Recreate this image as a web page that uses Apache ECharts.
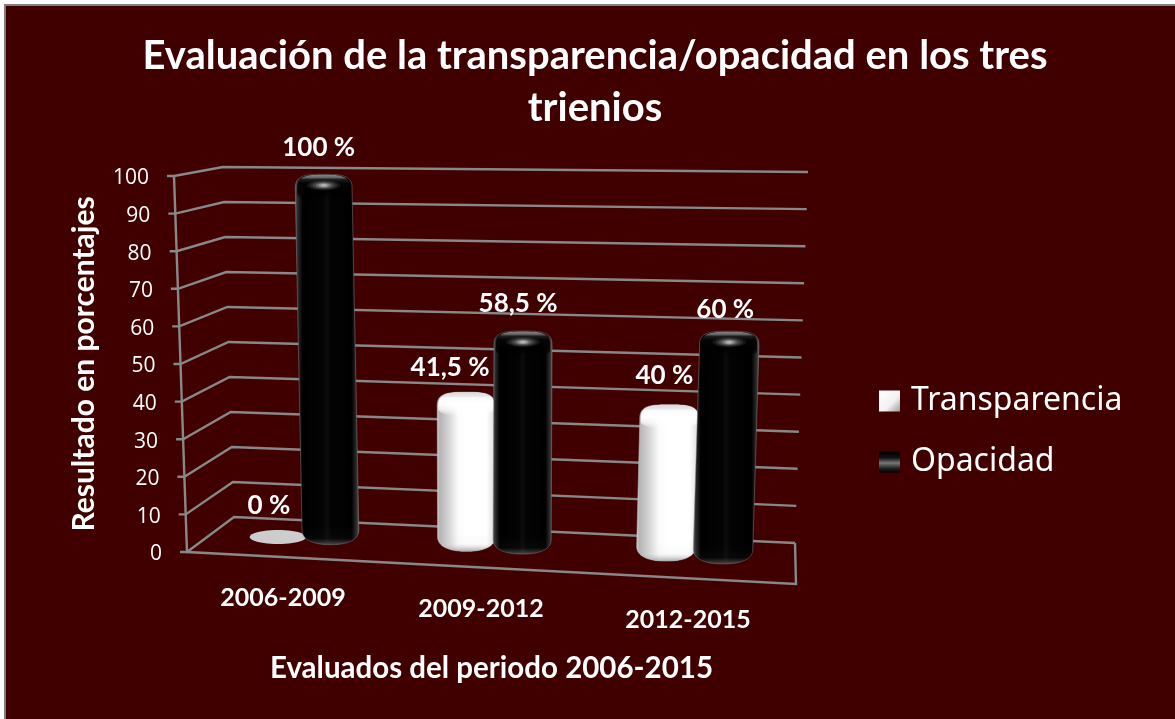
<!DOCTYPE html>
<html>
<head>
<meta charset="utf-8">
<style>html,body{margin:0;padding:0;background:#fff;overflow:hidden}#chart{width:1175px;height:719px}</style>
<script src="https://cdn.jsdelivr.net/npm/echarts@6/dist/echarts.min.js"></script>
</head>
<body>
<div id="chart"></div>
<script>
// ---- data ----
const categories = ['2006-2009', '2009-2012', '2012-2015'];
const transparencia = [0, 41.5, 40];
const opacidad = [100, 58.5, 60];
const yTicks = [0, 10, 20, 30, 40, 50, 60, 70, 80, 90, 100];

// ---- 3D view of the plot box (perspective of the drawing, not data) ----
const FL0 = [187, 552], FL100 = [174, 176], FR0 = [796, 584], FR100 = [810, 190];
const BL0 = [234, 517], BL100 = [223, 167], BR0 = [795, 543], BR100 = [808, 172];
const BAR_DEPTH = 0.6, TOP_SHIFT = 2;
const BAND_SHIFT = [-0.015, -0.019, -0.007];
const LABEL_NUDGE = [[[-7, -21], [-16, -25], [-5, -29]], [[-5, -27], [-5, -27], [-4, -22]]];
const CATEGORY_NUDGE = [-5.5, -10.5, -6.5];
const GRID = '#888888';
const FONT = 'Lato';

const mix = (a, b, t) => [a[0] + (b[0] - a[0]) * t, a[1] + (b[1] - a[1]) * t];
function project(u, v, d) {
  const front = mix(mix(FL0, FR0, u), mix(FL100, FR100, u), v);
  const back = mix(mix(BL0, BR0, u), mix(BL100, BR100, u), v);
  return mix(front, back, d);
}
function norm(params, api, cat, val) {
  const r = params.coordSys;
  const c = api.coord([cat, val]);
  return [(c[0] - r.x) / r.width, (r.y + r.height - c[1]) / r.height];
}
function ellipsePts(cx, cy, rx, ry) {
  const p = [];
  for (let i = 0; i < 48; i++) {
    const t = i / 48 * Math.PI * 2;
    p.push([cx + rx * Math.cos(t), cy + ry * Math.sin(t)]);
  }
  return p;
}
function barOutline(T, B, w, capH, botH) {
  const pts = [], e = 0.6, eb = 0.85;
  for (let i = 0; i <= 48; i++) {
    const t = Math.PI - i / 48 * Math.PI;
    const c = Math.cos(t), s = Math.sin(t);
    pts.push([T[0] + w * Math.sign(c) * Math.pow(Math.abs(c), e), T[1] + capH - capH * Math.pow(Math.abs(s), e)]);
  }
  for (let i = 0; i <= 48; i++) {
    const t = i / 48 * Math.PI;
    const c = Math.cos(t), s = Math.sin(t);
    pts.push([B[0] + w * Math.sign(c) * Math.pow(Math.abs(c), eb), B[1] - botH + botH * Math.pow(Math.abs(s), eb)]);
  }
  return pts;
}
const hGrad = (stops) => ({ type: 'linear', x: 0, y: 0, x2: 1, y2: 0, colorStops: stops.map(s => ({ offset: s[0], color: s[1] })) });
const vGrad = (stops) => ({ type: 'linear', x: 0, y: 0, x2: 0, y2: 1, colorStops: stops.map(s => ({ offset: s[0], color: s[1] })) });

const FILL = {
  0: hGrad([[0, '#d0d0d0'], [0.05, '#b4b4b4'], [0.18, '#cfcfcf'], [0.36, '#fbfbfb'], [0.5, '#ffffff'], [0.84, '#ffffff'], [0.95, '#e4e4e4'], [1, '#cccccc']]),
  1: hGrad([[0, '#6a6a6a'], [0.04, '#303030'], [0.12, '#000000'], [0.44, '#030303'], [0.5, '#0c0c0c'], [0.56, '#030303'], [0.88, '#000000'], [0.96, '#303030'], [1, '#6a6a6a']])
};
const RIM = { 0: 'rgba(190,190,190,0.5)', 1: 'rgba(125,125,125,0.5)' };
const BASE_SHADE = {
  0: vGrad([[0, 'rgba(190,190,190,0)'], [0.6, 'rgba(200,200,200,0.1)'], [1, 'rgba(165,165,165,0.9)']]),
  1: vGrad([[0, 'rgba(90,90,90,0)'], [0.65, 'rgba(70,70,70,0.08)'], [1, 'rgba(105,105,105,0.7)']])
};

function barSeries(name, values, side) {
  return {
    name, type: 'custom', coordinateSystem: 'cartesian2d', z: 5 + side,
    data: values.map((v, i) => [i, v]),
    renderItem(params, api) {
      const cat = api.value(0), val = api.value(1);
      const n = norm(params, api, cat, val);
      const off = 0.0465 + 0.003 * n[0];
      const u = n[0] + BAND_SHIFT[cat] + (side ? off : -off);
      const T = project(u, n[1], BAR_DEPTH), B = project(u, 0, BAR_DEPTH);
      const nudge = LABEL_NUDGE[side][cat];
      const text = String(val).replace('.', ',') + ' %';
      const w = 28 + 2 * u;
      const font = 'bold 26px ' + FONT;
      const children = [];
      if (val === 0) {
        children.push({ type: 'polygon', shape: { points: ellipsePts(B[0] + 2, B[1] + 3, w, 7) }, style: { fill: '#cdcdcd' } });
        children.push({ type: 'text', style: { x: B[0] + nudge[0], y: B[1] - 7 + nudge[1], text, fill: '#fff', font, textAlign: 'center', textVerticalAlign: 'middle' } });
        return { type: 'group', children };
      }
      const capH = 16;
      const top = T[1] + TOP_SHIFT;
      const bottom = B[1] + 8;
      children.push({ type: 'polygon', shape: { points: barOutline([T[0], top], [B[0], bottom], w, capH, 15) }, style: { fill: FILL[side], stroke: RIM[side], lineWidth: 1 } });
      children.push({ type: 'polygon', shape: { points: barOutline([B[0], bottom - 18], [B[0], bottom], w - 0.5, 1, 15) }, style: { fill: BASE_SHADE[side] } });
      if (side === 0) {
        children.push({ type: 'polygon', shape: { points: barOutline([T[0], top], [T[0], top + capH + 8], w - 1, capH, 8) },
          style: { fill: vGrad([[0, '#dadada'], [0.16, '#e6e6e6'], [0.24, '#fafafa'], [0.5, '#ffffff'], [0.75, 'rgba(255,255,255,0.7)'], [1, 'rgba(255,255,255,0)']]) } });
      } else {
        children.push({ type: 'polygon', shape: { points: barOutline([T[0], top + 0.5], [T[0], top + 26], w - 2, capH - 1, 6) },
          style: { fill: vGrad([[0, '#858585'], [0.1, '#6a6a6a'], [0.18, '#1e1e1e'], [0.32, '#050505'], [0.7, 'rgba(0,0,0,0.8)'], [1, 'rgba(0,0,0,0)']]) } });
        [[17, 5, 0.07], [14, 4.2, 0.1], [11, 3.4, 0.14], [8, 2.7, 0.2], [5.5, 2, 0.3], [3, 1.3, 0.4]].forEach(h => {
          children.push({ type: 'polygon', shape: { points: ellipsePts(T[0], top + 11, h[0], h[1]) }, style: { fill: 'rgba(235,235,235,' + h[2] + ')' } });
        });
      }
      children.push({ type: 'text', style: { x: T[0] + nudge[0], y: top + nudge[1], text, fill: '#fff', font, textAlign: 'center', textVerticalAlign: 'middle' } });
      return { type: 'group', children };
    }
  };
}

const option = {
  backgroundColor: '#ffffff',
  animation: false,
  graphic: [
    { type: 'rect', left: 4, top: 4, shape: { width: 1171, height: 715 }, style: { fill: '#808080' }, z: 0 },
    { type: 'rect', left: 6, top: 6, shape: { width: 1169, height: 713 }, style: { fill: '#400000' }, z: 0 }
  ],
  title: {
    text: 'Evaluación de la transparencia/opacidad en los tres\ntrienios',
    left: 590, top: 25, textAlign: 'center',
    textStyle: { color: '#fff', fontFamily: FONT, fontWeight: 'bold', fontSize: 40, lineHeight: 52 }
  },
  legend: {
    orient: 'vertical', left: 874, top: 380, itemWidth: 21, itemHeight: 21, itemGap: 29,
    selectedMode: false,
    textStyle: { color: '#fff', fontFamily: 'Noto Sans', fontSize: 32, padding: [0, 0, 0, 6] },
    data: [
      { name: 'Transparencia', icon: 'rect', itemStyle: { color: { type: 'linear', x: 0, y: 0, x2: 1, y2: 1, colorStops: [{ offset: 0, color: '#ffffff' }, { offset: 0.6, color: '#f2f2f2' }, { offset: 1, color: '#9a9a9a' }] } } },
      { name: 'Opacidad', icon: 'rect', itemStyle: { color: vGrad([[0, '#000'], [0.3, '#111'], [0.55, '#777'], [0.8, '#222'], [1, '#000']]) } }
    ]
  },
  grid: { left: FL0[0], top: FL100[1], width: FR0[0] - FL0[0], height: FL0[1] - FL100[1] },
  xAxis: {
    type: 'category', data: categories,
    name: 'Evaluados del periodo 2006-2015', nameLocation: 'middle', nameGap: 101,
    nameTextStyle: { color: '#fff', fontFamily: FONT, fontWeight: 'bold', fontSize: 29.5 },
    axisLine: { show: false }, axisTick: { show: false }, axisLabel: { show: false }, splitLine: { show: false }
  },
  yAxis: {
    type: 'value', min: 0, max: 100, interval: 10,
    name: 'Resultado en porcentajes', nameLocation: 'middle', nameGap: 88, nameRotate: 90,
    nameTextStyle: { color: '#fff', fontFamily: FONT, fontWeight: 'bold', fontSize: 30 },
    axisLine: { show: false }, axisTick: { show: false }, axisLabel: { show: false }, splitLine: { show: false }
  },
  series: [
    {
      name: 'walls', type: 'custom', z: 2, coordinateSystem: 'cartesian2d',
      data: yTicks.map(v => [0, v]),
      renderItem(params, api) {
        const val = api.value(1);
        const v = norm(params, api, 0, val)[1];
        const F = project(0, v, 0), BL = project(0, v, 1), BR = project(1, v, 1);
        const line = { stroke: GRID, lineWidth: 2.4, fill: null };
        const children = [
          { type: 'polyline', shape: { points: [[F[0] - 7, F[1]], F, BL, BR] }, style: line },
          { type: 'text', style: { x: F[0] - 25, y: F[1] + 2.5, text: String(val), fill: '#fff', font: '500 21px "Open Sans"', textAlign: 'right', textVerticalAlign: 'middle' } }
        ];
        if (val === 0) {
          children.push({ type: 'polyline', shape: { points: [project(0, 1, 0), F, project(1, 0, 0), BR] }, style: line });
        }
        return { type: 'group', children };
      }
    },
    {
      name: 'categoryLabels', type: 'custom', z: 2, coordinateSystem: 'cartesian2d',
      data: categories.map((c, i) => [i, 0]),
      renderItem(params, api) {
        const cat = api.value(0);
        const P = project(norm(params, api, cat, 0)[0], 0, 0);
        return { type: 'text', style: { x: P[0] + CATEGORY_NUDGE[cat], y: P[1] + 41, text: categories[cat], fill: '#fff', font: 'bold 25px ' + FONT, textAlign: 'center', textVerticalAlign: 'middle' } };
      }
    },
    barSeries('Transparencia', transparencia, 0),
    barSeries('Opacidad', opacidad, 1)
  ]
};
echarts.init(document.getElementById('chart')).setOption(option);
</script>
</body>
</html>
